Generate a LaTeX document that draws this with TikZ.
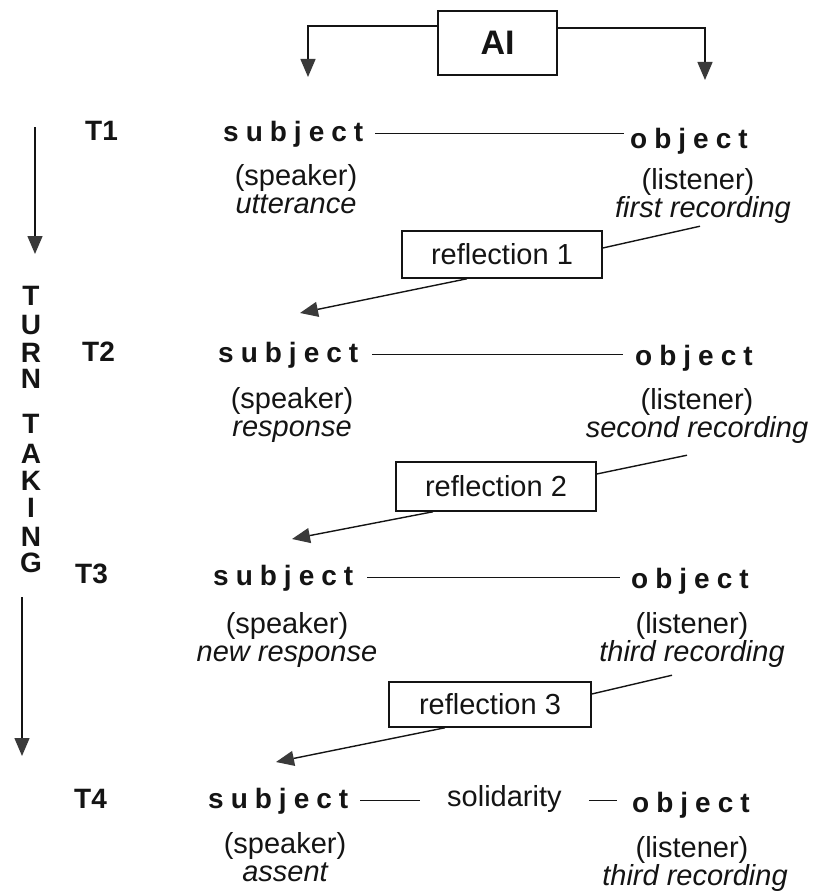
\documentclass[tikz,border=0pt]{standalone}
\usepackage{fontspec}
\setmainfont{Liberation Sans}
\usetikzlibrary{arrows.meta,calc}
\definecolor{ink}{HTML}{141414}
\definecolor{headgray}{HTML}{3A3A3A}
% letter-spaced bold role words
\newcommand\subjword{s\kern7pt u\kern7pt b\kern7pt j\kern7pt e\kern7pt c\kern7pt t}
\newcommand\objword{o\kern7pt b\kern7pt j\kern7pt e\kern7pt c\kern7pt t}
\begin{document}
\begin{tikzpicture}[x=1pt,y=-1pt,
  every node/.style={inner sep=0pt, text=ink},
  role/.style={font=\fontsize{28}{30}\selectfont\bfseries, anchor=base west},
  turnlabel/.style={font=\fontsize{28}{30}\selectfont\bfseries, anchor=base west},
  vert/.style={font=\fontsize{28}{30}\selectfont\bfseries},
  gloss/.style={font=\fontsize{29}{31}\selectfont, anchor=base},
  glossit/.style={font=\fontsize{29}{31}\selectfont\itshape, anchor=base},
  refbox/.style={draw=ink, line width=1.5pt, minimum width=200pt, minimum height=47pt,
                 font=\fontsize{29}{31}\selectfont},
  link/.style={draw=ink, line width=1.4pt},
  arr/.style={link, -{Triangle[length=18pt,width=15pt,color=headgray]}},
]
\useasboundingbox (0,0) rectangle (825,891);

% AI box and its two feeds
\node[draw=ink, line width=2.2pt, minimum width=119pt, minimum height=64pt,
      font=\fontsize{34}{36}\selectfont\bfseries] (ai) at (497.5,43) {AI};
\coordinate (aiL) at (308,77);
\coordinate (aiR) at (705,80);
\draw[arr] ([yshift=17pt]ai.west) -| (aiL);
\draw[arr] ([yshift=15pt]ai.east) -| (aiR);

% turn-taking axis
\coordinate (axA) at (35,127);
\coordinate (axB) at (35,254);
\coordinate (axC) at (22,597);
\coordinate (axD) at (22,756);
\draw[arr] (axA) -- (axB);
\draw[arr] (axC) -- (axD);
\foreach \ch/\yy [count=\i] in {T/296,U/325,R/353,N/379,T/424,A/454,K/481,I/508,N/537,G/563}
  \node[vert] (tl\i) at (31,\yy) {\ch};

% turn labels
\node[turnlabel] (t1) at (85,140) {T1};
\node[turnlabel] (t2) at (82,361) {T2};
\node[turnlabel] (t3) at (75,583) {T3};
\node[turnlabel] (t4) at (74,808) {T4};

% subject / object pairs
\node[role] (s1) at (223,141) {\subjword};
\node[role] (o1) at (630,148) {\objword};
\node[role] (s2) at (218,362) {\subjword};
\node[role] (o2) at (635,365) {\objword};
\node[role] (s3) at (213,585) {\subjword};
\node[role] (o3) at (631,588) {\objword};
\node[role] (s4) at (208,808) {\subjword};
\node[role] (o4) at (632,812) {\objword};

\draw[link] ($(s1.east)+(12,0)$) -- ($(s1.east -| o1.west)+(-6,0)$);
\draw[link] ($(s2.east)+(14,0)$) -- ($(s2.east -| o2.west)+(-12,0)$);
\draw[link] ($(s3.east)+(14,0)$) -- ($(s3.east -| o3.west)+(-11,0)$);

\node[gloss, anchor=base west] (sol) at (447,806) {solidarity};
\draw[link] ($(s4.east)+(12,0)$) -- ($(s4.east -| sol.west)+(-27,0)$);
\draw[link] ($(sol.east |- s4.east)+(27,0)$) -- ($(s4.east -| o4.west)+(-15,0)$);

% glosses under each role
\node[gloss]   (sp1) at (296,185) {(speaker)};
\node[glossit] (ut1) at (296,213) {utterance};
\node[gloss]   (li1) at (698,189) {(listener)};
\node[glossit] (fr1) at (703,217) {first recording};

\node[gloss]   (sp2) at (292,408) {(speaker)};
\node[glossit] (re2) at (292,436) {response};
\node[gloss]   (li2) at (697,409) {(listener)};
\node[glossit] (sr2) at (697,437) {second recording};

\node[gloss]   (sp3) at (287,633) {(speaker)};
\node[glossit] (nr3) at (287,661) {new response};
\node[gloss]   (li3) at (692,633) {(listener)};
\node[glossit] (tr3) at (692,661) {third recording};

\node[gloss]   (sp4) at (285,853) {(speaker)};
\node[glossit] (as4) at (285,881) {assent};
\node[gloss]   (li4) at (692,857) {(listener)};
\node[glossit] (tr4) at (695,885) {third recording};

% reflection steps
\node[refbox] (r1) at (502,254.5) {reflection 1};
\node[refbox, minimum height=49pt] (r2) at (496,486.5) {reflection 2};
\node[refbox, minimum width=202pt, minimum height=45pt] (r3) at (490,704.5) {reflection 3};

\draw[link] ($(fr1.south)+(-3,3)$) -- ($(r1.east)+(0,-6.5)$);
\draw[link] ($(sr2.south)+(-10,12)$) -- ($(r2.east)+(0,-12.5)$);
\draw[link] ($(tr3.south)+(-20,8)$) -- ($(r3.east)+(0,-10.5)$);

\coordinate (tip1) at (300,313);
\coordinate (tip2) at (292,539);
\coordinate (tip3) at (276,762);
\draw[arr] ($(r1.south)+(-35,0)$) -- (tip1);
\draw[arr] ($(r2.south)+(-63,0)$) -- (tip2);
\draw[arr] ($(r3.south)+(-45,0)$) -- (tip3);
\end{tikzpicture}
\end{document}
